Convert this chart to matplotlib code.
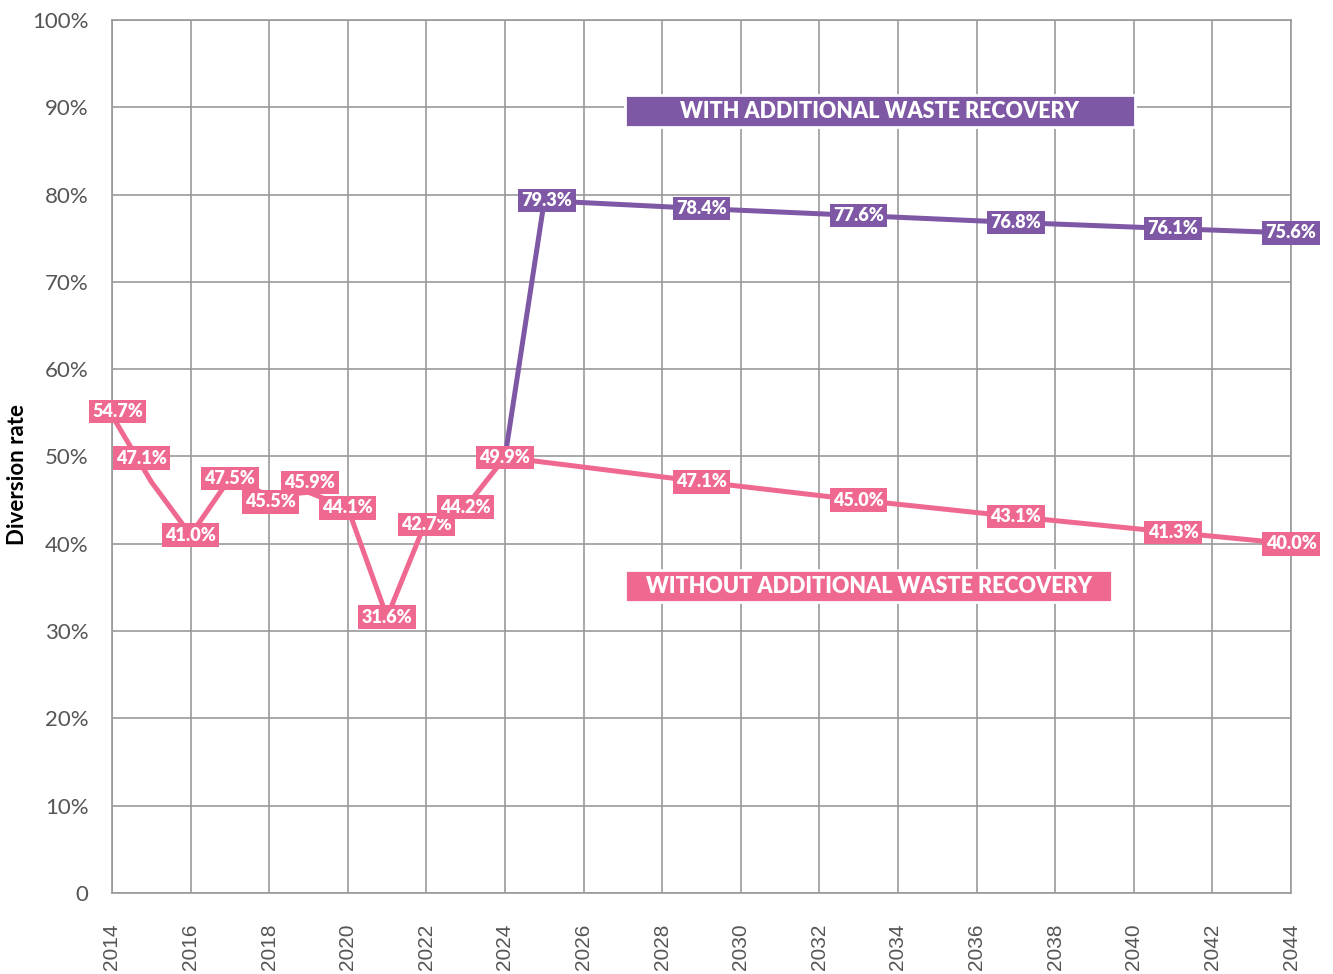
import numpy as np
import matplotlib.pyplot as plt
from matplotlib.patches import Rectangle

# diversion rate, without additional recovery
years_base = [2014, 2015, 2016, 2017, 2018, 2019, 2020, 2021, 2022, 2023, 2024,
              2029, 2033, 2037, 2041, 2044]
rate_base = [54.7, 47.1, 41.0, 47.5, 45.5, 45.9, 44.1, 31.6, 42.7, 44.2, 49.9,
             47.1, 45.0, 43.1, 41.3, 40.0]

# with additional recovery (starts from 2024 value)
years_add = [2024, 2025, 2029, 2033, 2037, 2041, 2044]
rate_add = [49.9, 79.3, 78.4, 77.6, 76.8, 76.1, 75.6]

x_ticks = list(range(2014, 2045, 2))
y_ticks = list(range(0, 101, 10))
y_ticklabels = ['0'] + [f'{v}%' for v in y_ticks[1:]]

pink = '#EF6890'
purple = '#7E57A5'
grid_c = '#9a9a9a'

# label nudges in points (year -> (dx, dy)) where the labels sit off the point
nudge = {2014: (4, 3), 2015: (-7, 17), 2018: (1, -4.5), 2019: (1, 7), 2022: (0, -3)}

fig = plt.figure(figsize=(13.33, 9.74), dpi=100)
ax = fig.add_axes([0.084, 0.0832, 0.8845, 0.8963])

ax.set_xlim(2014, 2044)
ax.set_ylim(0, 100)
ax.set_xticks(x_ticks)
ax.set_xticklabels([str(t) for t in x_ticks], rotation=90, fontsize=15,
                   color='#555555', family='Liberation Sans')
ax.set_yticks(y_ticks)
ax.set_yticklabels(y_ticklabels, fontsize=16, color='#555555', family='Lato')
ax.tick_params(length=0)
ax.tick_params(axis='x', pad=22)
ax.tick_params(axis='y', pad=17)
ax.grid(True, color=grid_c, linewidth=1.2)
ax.set_axisbelow(True)
for s in ax.spines.values():
    s.set_color(grid_c)
    s.set_linewidth(1.2)

ax.set_ylabel('Diversion rate', fontsize=16, fontweight='bold', family='Lato')
ax.yaxis.set_label_coords(-0.071, 0.479)

ax.plot(years_add, rate_add, color=purple, linewidth=3.6, solid_capstyle='butt', zorder=3, clip_on=False)
ax.plot(years_base, rate_base, color=pink, linewidth=3.6, zorder=4, clip_on=False)

def label(x, y, c, dx=0, dy=0):
    ax.annotate(f'{y:.1f}%', (x, y), xytext=(dx, dy), textcoords='offset points',
                ha='center', va='center', fontsize=13, fontweight='heavy', color='white',
                family='Lato', zorder=6, annotation_clip=False,
                bbox=dict(boxstyle='square,pad=0.18', fc=c, ec='none'))

for x, y in zip(years_base, rate_base):
    dx, dy = nudge.get(x, (0, 0))
    label(x, y, pink, dx, dy)
for x, y in zip(years_add[1:], rate_add[1:]):
    label(x, y, purple, dx=2 if x == 2025 else 0)

# series name boxes
ax.add_patch(Rectangle((2027.05, 87.7), 12.98, 3.7, fc=purple, ec='white', lw=2, zorder=5))
ax.text(2033.54, 89.55, 'WITH ADDITIONAL WASTE RECOVERY', ha='center', va='center',
        fontsize=15.5, fontweight='heavy', color='white', family='Lato', zorder=6)
ax.add_patch(Rectangle((2027.05, 33.3), 12.4, 3.7, fc=pink, ec='white', lw=2, zorder=5))
ax.text(2033.25, 35.15, 'WITHOUT ADDITIONAL WASTE RECOVERY', ha='center', va='center',
        fontsize=15.5, fontweight='heavy', color='white', family='Lato', zorder=6)

fig.savefig('out.png', dpi=100)
